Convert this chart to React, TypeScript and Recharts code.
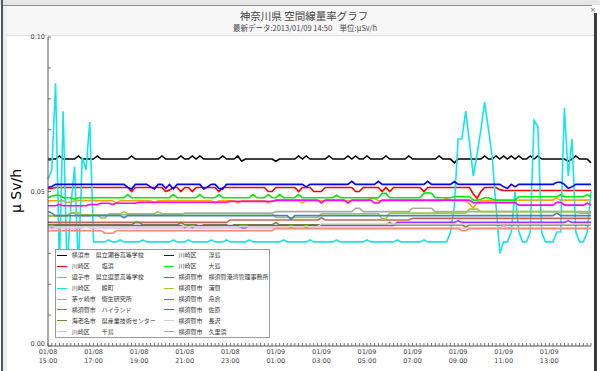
import React from 'react';
import { LineChart, Line, XAxis, YAxis, Legend } from 'recharts';

// values in units of 0.001 µSv/h, one every 10 minutes from 01/08 15:00 to 01/09 14:50
const yokohamaSeya = [
  60.5,60.5,60.5,61.5,60.5,60.5,60.5,60.5,61.5,60.5,60.5,60.5,
  60.5,61.5,60.5,60.5,60.5,60.5,60.5,60.5,60.5,60.5,61.5,60.5,
  60.5,60.5,60.5,60.5,60.5,60.5,61.5,60.5,60.5,60.5,60.5,61.5,
  60.5,60.5,61.5,60.5,61.5,60.5,60.5,60.5,60.5,60.5,61.5,60.5,
  60.5,60.5,61.5,59.8,60.5,60.5,60.5,60.5,60.5,60.5,60.5,60.5,
  59.8,60.5,60.5,60.5,60.5,60.5,61.5,60.5,61.5,60.5,60.5,60.5,
  60.5,60.5,61.5,60.5,60.5,60.5,60.5,61.5,60.5,61.5,60.5,60.5,
  61.5,60.5,60.5,60.5,60.5,61.5,60.5,60.5,60.5,60.5,60.5,61.5,
  60.5,60.5,60.5,60.5,60.5,60.5,60.5,61.5,60.5,60.5,60.5,59.3,
  60.5,60.5,60.5,60.5,60.5,60.5,60.5,61.5,60.5,60.5,61.5,60.5,
  61.5,60.5,61.5,60.5,61.5,60.5,60.5,61.5,60.5,61.5,60.5,60.5,
  60.5,60.5,60.5,60.5,60.5,59.8,60.5,61.5,60.5,60.5,60.5,59.3,
];
const shiohama = [
  51.0,51.0,51.3,51.3,51.3,51.3,51.3,51.3,51.3,51.3,51.3,51.3,
  51.3,51.3,51.3,51.3,51.3,51.3,51.3,51.3,51.3,51.3,50.0,51.3,
  51.3,51.3,51.3,51.3,51.3,51.3,51.3,50.0,50.5,51.3,51.3,50.0,
  51.3,51.3,50.0,51.3,51.3,51.3,51.3,51.3,51.3,50.0,51.3,51.3,
  51.3,51.3,51.3,51.3,51.3,51.3,51.3,51.3,51.3,51.3,50.0,50.0,
  51.3,51.3,51.3,51.3,51.3,51.3,50.0,51.3,51.3,51.3,50.0,50.0,
  50.0,51.3,51.3,51.3,51.3,51.3,51.3,51.3,51.3,50.0,50.0,51.3,
  51.3,51.3,51.3,51.3,50.0,51.3,50.0,51.3,51.3,51.3,51.3,51.3,
  51.3,51.3,51.3,50.0,51.3,51.3,51.3,51.3,51.3,51.3,51.3,51.3,
  51.3,51.3,51.3,51.3,49.2,47.8,50.0,51.3,51.3,51.3,51.3,50.6,
  50.3,50.3,50.3,50.3,50.3,50.3,50.3,50.3,50.3,50.3,50.3,50.3,
  50.3,50.3,50.3,50.3,50.3,50.3,50.3,50.3,50.3,50.3,50.3,50.3,
];
const zushi = [
  47.0,47.0,47.0,47.0,47.0,46.5,46.5,47.0,47.0,47.0,47.0,47.0,
  47.0,47.0,47.0,47.0,47.0,47.0,46.3,47.0,47.0,47.0,47.0,47.0,
  47.0,47.0,47.0,47.0,46.3,47.0,47.0,47.0,47.0,47.0,47.0,47.0,
  47.0,47.0,47.0,47.0,47.0,47.0,47.0,47.0,46.3,47.0,47.0,47.0,
  47.0,47.0,46.3,47.0,47.0,47.0,47.0,47.0,47.0,47.0,46.3,47.0,
  47.0,47.0,47.0,47.0,47.0,47.0,47.0,46.3,47.0,47.0,47.0,47.0,
  47.0,47.0,47.0,47.0,47.0,47.0,47.0,47.0,47.0,47.0,47.0,47.0,
  47.0,47.8,47.8,47.0,47.0,47.0,47.0,47.0,47.0,47.0,47.0,47.0,
  47.0,47.0,47.0,47.0,47.0,47.0,47.0,47.0,47.0,47.8,47.0,47.0,
  47.0,47.0,47.0,46.0,44.6,46.5,47.0,47.0,47.0,47.0,47.0,47.0,
  47.0,47.0,47.0,47.0,47.2,47.2,47.2,47.2,47.2,47.2,47.2,47.2,
  47.2,47.2,48.0,47.2,47.2,47.2,47.2,47.2,47.2,47.2,47.2,47.2,
];
const tonomachi = [
  54.0,57.0,85.0,25.0,76.0,25.0,45.0,58.0,25.0,61.0,57.0,72.5,
  33.7,33.7,33.7,33.7,34.3,33.7,33.7,34.3,33.7,33.7,33.7,33.7,
  33.7,34.3,33.7,33.7,33.7,33.7,33.7,33.7,33.7,34.3,33.7,33.7,
  33.7,34.3,33.7,33.7,33.7,33.7,33.7,34.3,33.7,33.7,33.7,34.3,
  33.7,33.7,33.7,33.7,33.7,34.3,33.7,33.7,33.7,33.7,33.7,33.7,
  33.7,33.7,34.3,33.7,33.7,33.7,33.7,33.7,33.7,34.3,33.7,33.7,
  33.7,33.7,33.7,33.7,34.3,33.7,33.7,33.7,33.7,33.7,33.7,33.7,
  34.3,33.7,33.7,33.7,33.7,33.7,33.7,33.7,34.3,33.7,33.7,33.7,
  33.7,33.7,33.7,34.3,33.7,33.7,33.7,33.7,33.7,33.7,36.9,45.0,
  67.0,67.0,76.0,66.0,55.0,62.0,70.0,79.0,70.0,61.0,45.0,30.0,
  33.7,33.7,36.9,50.0,36.9,33.7,33.7,36.9,73.0,71.0,36.9,33.7,
  33.7,33.7,36.9,36.9,77.0,55.0,67.0,36.9,33.7,33.7,36.9,50.0,
];
const chigasaki = [
  42.2,42.2,42.2,42.2,42.2,42.2,43.0,43.0,42.2,42.2,42.2,42.2,
  42.5,42.5,42.5,42.5,42.5,42.5,42.5,42.5,42.5,42.5,42.5,42.5,
  42.5,42.5,42.5,42.5,42.5,42.5,42.5,42.5,42.5,42.5,42.5,42.5,
  43.0,43.0,43.0,43.0,43.0,43.0,43.0,43.0,43.0,43.0,43.0,43.0,
  43.0,43.0,43.0,43.0,43.0,43.0,43.0,43.0,43.0,43.0,43.0,43.0,
  43.5,43.5,43.5,43.5,43.5,43.5,43.5,43.5,43.5,43.5,43.5,43.5,
  43.5,43.5,43.5,43.5,43.5,43.5,43.5,43.5,43.5,44.6,44.6,43.5,
  43.5,43.5,43.5,43.5,43.5,43.5,43.5,43.5,43.5,43.5,43.5,43.5,
  44.6,44.6,44.6,44.6,44.6,44.6,43.5,43.5,43.5,43.5,43.5,43.5,
  43.5,43.5,43.5,43.5,43.5,43.5,43.5,43.5,43.5,43.5,43.5,43.5,
  43.5,43.5,43.5,43.5,43.5,43.5,43.5,43.5,43.5,43.5,43.5,43.5,
  43.5,43.5,43.5,43.5,43.5,43.5,43.5,43.5,43.0,43.0,43.0,43.0,
];
const highland = [
  40.0,40.0,40.0,40.0,40.0,40.0,40.0,40.0,40.0,40.0,40.0,40.0,
  40.0,40.0,40.0,40.0,40.0,40.0,40.0,40.0,40.0,40.0,40.0,40.0,
  40.0,40.0,40.0,40.0,40.0,40.0,40.0,40.0,40.0,40.0,40.0,40.0,
  40.0,40.0,40.0,40.0,40.0,40.0,40.0,40.0,40.0,40.0,40.0,40.0,
  40.8,40.8,40.8,40.8,40.8,40.8,40.8,40.8,40.8,40.8,40.8,40.8,
  40.8,40.8,40.8,40.8,40.8,40.8,40.8,40.8,40.8,40.8,40.8,40.8,
  41.5,40.8,40.8,40.8,40.8,40.8,40.8,40.8,40.8,40.8,40.8,40.8,
  40.8,40.8,40.8,40.8,40.8,40.8,40.8,40.8,40.8,40.8,40.8,40.8,
  41.3,41.3,41.3,41.3,41.3,41.3,41.3,41.3,41.3,41.3,41.3,41.3,
  41.3,41.3,41.3,41.3,41.3,41.3,41.3,41.3,41.3,41.3,41.3,41.3,
  41.3,41.3,41.3,41.3,41.3,41.3,41.3,41.3,41.3,41.3,41.3,41.3,
  41.3,41.3,41.3,41.3,41.3,41.3,41.3,41.3,41.3,41.3,41.3,41.3,
];
const ebina = [
  39.2,39.2,39.2,39.2,39.2,39.2,39.2,39.2,39.2,39.2,39.2,39.2,
  39.2,39.2,39.2,39.2,39.2,39.2,39.2,39.2,39.2,39.2,39.2,40.0,
  40.0,39.2,39.2,39.2,39.2,39.2,39.2,39.2,39.2,39.2,39.2,40.0,
  39.2,39.2,39.2,39.2,38.5,39.2,39.2,39.2,39.2,39.2,39.2,39.2,
  38.5,39.2,39.2,39.2,39.2,39.2,39.2,39.2,39.2,39.2,39.2,39.2,
  40.0,39.2,39.2,39.2,39.2,39.2,39.2,39.2,39.2,39.2,39.2,39.2,
  39.2,39.2,39.2,39.2,39.2,39.2,39.2,39.2,39.2,39.2,39.2,39.2,
  39.2,39.2,39.2,39.2,39.2,39.2,40.0,39.2,39.2,39.2,39.2,39.2,
  39.2,39.2,39.2,39.2,39.2,39.2,39.2,39.2,39.2,39.2,39.2,39.2,
  39.2,39.2,38.5,39.2,39.2,39.2,39.2,39.2,39.2,39.2,39.2,39.2,
  39.2,39.2,39.2,39.2,39.2,39.2,39.2,39.2,39.2,39.2,39.2,39.2,
  39.2,39.2,39.2,39.2,39.2,39.2,39.2,39.2,39.2,39.2,39.2,39.2,
];
const chidori = [
  38.2,38.2,38.2,38.2,38.2,38.2,38.2,38.2,38.2,38.2,38.8,38.2,
  38.2,38.2,38.2,38.2,38.2,38.2,38.2,38.2,38.2,38.2,38.2,38.2,
  38.2,38.2,38.2,38.2,38.2,38.2,38.2,38.2,38.2,38.2,38.2,38.2,
  38.2,38.2,38.2,38.2,38.2,38.2,38.2,38.2,38.2,38.2,38.2,38.2,
  38.2,38.2,38.2,38.2,38.2,38.2,38.2,38.2,38.2,38.2,38.2,38.2,
  38.2,38.2,38.2,38.2,38.2,38.2,38.2,38.2,38.2,38.2,38.2,38.2,
  38.2,38.2,38.2,38.2,38.2,38.2,38.2,38.2,38.2,38.2,38.2,38.2,
  38.2,38.2,38.2,38.2,38.2,38.2,38.2,38.2,38.2,38.2,38.2,38.2,
  38.2,38.2,38.2,38.2,38.2,38.2,38.2,38.2,38.2,38.2,38.2,38.2,
  38.2,38.2,38.2,38.2,38.2,38.2,38.2,38.2,38.2,38.2,38.2,38.2,
  38.8,38.2,38.2,38.2,38.2,38.2,38.2,38.2,38.2,38.2,38.2,38.2,
  38.2,38.2,38.2,38.2,38.2,38.2,38.2,38.2,38.2,38.2,38.2,38.2,
];
const ukishima = [
  51.4,51.6,52.3,52.3,52.3,52.3,52.3,52.3,52.3,52.3,52.3,52.3,
  52.3,52.3,52.3,52.3,52.3,52.3,52.3,52.3,52.3,51.3,50.8,52.3,
  52.3,52.3,52.3,51.5,50.8,52.3,52.3,51.0,52.3,50.8,52.3,52.3,
  52.3,52.3,52.3,52.3,52.3,50.8,51.5,52.3,52.3,51.0,50.8,52.3,
  52.3,52.3,52.3,52.3,52.3,52.3,52.3,52.3,52.3,52.3,52.3,52.3,
  52.3,52.3,52.3,52.3,52.3,52.3,52.3,52.3,51.5,52.3,52.3,52.3,
  52.3,52.3,52.3,52.3,52.3,52.3,52.3,52.3,53.3,52.3,52.3,52.3,
  52.3,52.3,52.3,53.3,52.3,52.3,52.3,52.3,52.3,52.3,52.3,52.3,
  52.3,52.3,52.3,52.3,53.3,52.3,52.3,52.3,52.3,52.3,52.3,53.2,
  52.3,52.3,52.3,52.3,52.3,52.3,52.3,52.3,52.3,52.3,52.3,52.3,
  51.5,51.0,52.3,51.5,52.3,52.3,52.3,52.3,52.3,52.3,52.3,52.3,
  52.3,52.3,53.0,53.0,52.3,51.0,51.5,52.3,52.3,52.3,52.3,52.3,
];
const oshima = [
  48.0,48.5,48.8,48.8,48.0,48.0,48.0,47.5,48.0,48.0,48.0,48.0,
  48.0,48.0,48.0,48.0,48.0,48.0,48.0,48.0,48.0,49.0,48.0,48.0,
  48.0,48.0,48.0,48.0,48.0,48.0,48.0,48.0,48.0,49.0,48.0,48.0,
  48.0,48.0,48.0,48.0,49.0,48.0,48.0,48.0,48.0,49.0,48.0,48.0,
  48.0,48.0,48.0,48.0,48.0,48.0,49.0,48.0,48.0,48.0,49.0,48.0,
  48.0,49.0,48.0,48.0,48.0,48.0,49.0,48.0,48.0,48.0,48.0,48.0,
  48.0,48.0,48.0,48.0,48.8,48.0,48.0,48.0,48.0,48.0,48.0,48.0,
  48.0,48.0,48.0,48.0,49.4,49.4,48.0,48.0,48.0,48.0,48.0,48.0,
  48.0,48.0,48.0,49.4,49.6,49.4,48.0,48.0,48.0,48.0,48.0,48.3,
  48.3,48.3,48.3,48.3,47.2,47.2,47.5,48.0,48.0,47.5,47.2,47.2,
  47.2,47.2,47.2,47.2,48.3,48.3,48.3,48.3,48.3,48.3,48.3,48.3,
  48.3,48.3,48.3,49.0,48.3,48.3,48.3,48.3,48.3,48.3,49.0,48.3,
];
const yokosukaPort = [
  45.4,45.4,45.4,45.8,45.4,45.4,45.4,45.4,45.4,45.4,45.4,45.8,
  45.8,45.8,46.2,46.2,46.2,45.8,46.2,46.2,46.2,46.2,46.2,46.2,
  46.5,46.5,46.5,46.5,46.5,46.5,46.5,46.5,46.5,46.5,46.5,46.5,
  46.5,46.5,46.5,46.5,46.5,46.5,46.5,46.5,46.5,46.5,46.5,46.5,
  46.8,46.8,46.8,46.8,46.8,46.8,46.8,46.8,46.8,46.8,46.8,46.8,
  47.2,47.2,47.2,47.2,47.2,47.2,47.2,47.2,47.2,47.2,47.2,47.2,
  46.3,47.2,47.2,47.2,47.2,47.2,47.2,46.3,47.2,47.2,47.2,47.2,
  47.2,47.2,46.3,46.3,47.2,47.2,47.2,47.2,47.2,47.2,47.2,47.2,
  47.2,47.2,47.2,47.2,47.2,47.2,47.2,47.2,47.2,47.2,47.2,47.2,
  47.2,47.2,47.2,47.2,46.4,46.4,46.4,46.4,46.4,46.4,46.4,46.4,
  46.4,46.4,46.4,46.4,45.6,45.6,45.6,45.6,45.6,45.6,45.6,45.6,
  45.6,45.6,46.5,46.5,45.6,45.6,45.6,45.6,45.6,45.6,46.2,45.6,
];
const uraga = [
  42.0,42.0,42.0,42.0,42.0,42.0,43.0,43.0,43.0,42.5,42.5,42.5,
  42.5,42.5,41.4,41.4,42.8,42.8,42.8,42.8,43.5,42.8,42.8,42.8,
  42.8,42.8,42.8,42.8,42.8,43.5,42.8,42.8,42.8,42.8,42.8,42.8,
  42.8,42.8,42.8,42.8,42.8,42.8,42.8,42.8,42.8,42.8,42.8,42.8,
  42.8,42.8,42.8,42.8,42.8,42.8,42.8,42.8,42.8,42.8,42.8,42.8,
  41.6,41.6,41.6,41.6,41.6,41.6,41.6,41.6,41.6,41.6,41.6,41.6,
  42.8,42.8,42.8,42.8,42.8,42.8,42.8,42.8,42.8,42.8,42.8,42.8,
  42.8,42.8,42.8,42.8,41.2,41.2,43.0,43.0,43.0,43.0,43.0,43.0,
  43.0,43.0,43.0,43.0,43.0,43.0,43.0,43.0,43.0,43.0,43.0,43.0,
  43.0,43.0,43.0,44.3,44.3,44.3,43.5,43.5,43.5,43.5,43.5,43.5,
  43.5,43.5,43.5,43.5,43.5,43.5,43.5,43.5,43.5,43.5,43.5,43.5,
  43.5,43.5,43.5,43.5,43.5,43.5,43.5,43.5,43.5,43.5,43.5,43.5,
];
const funakura = [
  43.5,43.0,42.2,42.2,42.2,42.2,42.2,42.2,42.2,42.2,42.2,42.2,
  42.2,42.2,42.2,42.2,42.2,42.2,42.2,42.2,41.5,42.2,42.2,42.2,
  42.2,42.2,42.2,42.2,42.2,42.2,42.2,42.2,42.2,42.2,42.2,42.2,
  42.2,42.2,42.2,42.2,42.2,42.2,42.2,42.2,42.2,42.2,42.2,42.2,
  42.2,42.2,42.2,42.2,42.2,42.2,42.2,42.2,42.2,42.2,42.2,42.2,
  42.2,42.2,42.2,42.2,41.0,42.2,42.2,42.2,42.2,42.2,42.2,42.2,
  42.2,42.2,42.2,42.2,42.2,42.2,42.2,42.2,42.2,42.2,42.2,42.2,
  42.2,42.2,42.2,42.2,42.2,42.2,42.2,42.2,42.2,42.2,42.2,42.2,
  42.2,42.2,42.2,42.2,42.2,42.2,42.2,42.2,42.2,42.2,42.2,42.2,
  42.2,42.2,42.2,42.2,42.2,42.2,42.2,42.2,42.2,42.2,42.2,42.2,
  42.2,42.2,42.2,42.2,42.2,42.2,42.2,42.2,42.2,42.2,42.2,42.2,
  42.2,42.2,43.0,42.2,42.2,42.2,42.2,42.2,42.2,42.2,42.2,42.2,
];
const sahara = [
  39.0,38.3,39.0,39.0,39.0,39.0,39.0,39.0,39.0,39.0,39.0,39.0,
  39.0,39.0,39.0,39.0,39.0,39.0,39.0,39.0,39.0,39.0,39.0,39.0,
  39.0,39.0,39.0,39.0,39.0,39.0,39.0,39.0,39.0,39.0,39.0,39.0,
  38.3,39.0,38.3,39.0,39.0,39.0,39.0,39.0,39.0,39.0,39.0,39.0,
  39.0,39.0,39.0,38.3,38.3,39.0,39.0,39.0,39.0,39.0,39.0,39.0,
  39.0,39.0,39.0,39.0,38.3,39.0,39.0,39.0,38.3,39.0,39.0,39.0,
  39.0,39.0,39.0,39.0,39.0,39.0,39.0,39.0,39.0,39.0,39.0,39.0,
  39.0,39.0,39.0,39.0,39.0,39.0,39.0,39.0,40.0,40.0,40.0,40.0,
  40.0,40.0,40.0,40.0,40.0,40.0,40.0,40.0,40.0,40.0,40.0,40.0,
  40.5,40.0,40.0,40.0,40.0,40.0,40.0,40.0,40.0,40.0,40.0,40.0,
  40.0,40.0,40.0,40.0,40.0,40.0,40.0,40.0,40.0,40.0,40.0,40.0,
  40.0,40.0,40.0,40.0,40.0,40.5,40.0,40.0,40.0,40.0,40.0,40.0,
];
const nagasawa = [
  38.6,38.6,38.6,38.6,38.6,38.6,38.6,38.6,38.6,38.6,38.6,38.6,
  38.6,38.6,38.6,38.6,38.6,38.6,38.6,38.6,38.6,38.6,38.6,38.6,
  38.6,38.6,38.6,38.6,38.6,38.6,38.6,38.6,38.6,38.6,38.6,38.6,
  38.6,38.6,38.6,38.6,38.6,38.6,38.6,38.6,38.6,38.6,38.6,38.6,
  38.6,38.6,38.6,38.6,38.6,38.6,38.6,38.6,38.6,38.6,38.6,38.6,
  38.6,38.6,38.6,38.6,38.6,38.6,38.6,38.6,38.6,38.6,38.6,38.6,
  39.5,39.5,39.5,39.5,39.5,39.5,39.5,39.5,39.5,39.5,39.5,39.5,
  39.5,39.5,39.5,39.5,39.5,39.5,39.5,39.5,39.5,39.5,39.5,39.5,
  39.5,39.5,39.5,39.5,39.5,39.5,39.5,39.5,39.5,39.5,39.5,39.5,
  39.5,39.5,39.5,39.5,39.5,39.5,39.5,39.5,39.5,39.5,39.5,39.5,
  39.5,39.5,39.5,39.5,39.5,39.5,39.5,39.5,39.5,39.5,39.5,39.5,
  39.5,39.5,39.5,39.5,39.5,39.5,39.5,39.5,39.5,39.5,39.5,39.5,
];
const kurihama = [
  37.3,37.3,37.3,37.3,37.3,37.3,37.3,37.3,37.3,37.3,37.3,37.3,
  37.3,37.3,37.3,36.5,36.5,36.5,37.3,37.3,37.3,37.3,37.3,37.3,
  37.3,37.3,37.3,37.3,37.3,37.3,37.3,37.3,37.3,37.3,37.3,37.3,
  37.3,37.3,37.3,37.3,37.3,37.3,37.3,37.3,37.3,37.3,37.3,37.3,
  37.3,37.3,37.3,37.3,37.3,37.3,37.3,37.3,37.3,37.3,37.3,37.3,
  38.0,38.0,38.0,38.0,38.0,38.0,38.0,38.0,38.0,38.0,38.0,38.0,
  38.0,38.0,38.0,38.0,38.0,38.0,38.0,38.0,38.0,38.0,38.0,38.0,
  38.0,38.0,38.0,38.0,38.0,38.0,38.0,38.0,38.0,38.0,38.0,38.0,
  38.0,38.0,38.0,38.0,38.0,38.0,38.0,38.0,38.0,38.0,38.0,38.0,
  38.0,37.3,37.3,38.0,38.0,38.0,38.0,38.0,38.0,38.0,38.0,38.0,
  38.0,38.0,38.0,38.0,38.0,38.0,38.0,38.0,38.0,38.0,38.0,38.0,
  38.0,38.0,38.0,38.0,38.0,38.0,38.0,38.0,38.0,38.0,38.0,38.0,
];

const xTickLabels = [
  ['01/08', '15:00'], ['01/08', '17:00'], ['01/08', '19:00'], ['01/08', '21:00'],
  ['01/08', '23:00'], ['01/09', '01:00'], ['01/09', '03:00'], ['01/09', '05:00'],
  ['01/09', '07:00'], ['01/09', '09:00'], ['01/09', '11:00'], ['01/09', '13:00'],
];
const yTicks = [0, 0.01, 0.02, 0.03, 0.04, 0.05, 0.06, 0.07, 0.08, 0.09, 0.1];
const yTickLabels = ['0.00', '', '', '', '', '0.05', '', '', '', '', '0.10'];

const seriesDefs = [
  { key: 'yokohamaSeya', name: '横浜市　県立瀬谷高等学校', color: '#000000', values: yokohamaSeya },
  { key: 'shiohama', name: '川崎区　　塩浜', color: '#ff0000', values: shiohama },
  { key: 'zushi', name: '逗子市　県立逗葉高等学校', color: '#ffa500', values: zushi },
  { key: 'tonomachi', name: '川崎区　　殿町', color: '#12e6ec', values: tonomachi },
  { key: 'chigasaki', name: '茅ヶ崎市　衛生研究所', color: '#a9a9a9', values: chigasaki },
  { key: 'highland', name: '横須賀市　ハイランド', color: '#cd6155', values: highland },
  { key: 'ebina', name: '海老名市　県産業技術センター', color: '#6b8e23', values: ebina },
  { key: 'chidori', name: '川崎区　　千鳥', color: '#f2b0f2', values: chidori },
  { key: 'ukishima', name: '川崎区　　浮島', color: '#0000ff', values: ukishima },
  { key: 'oshima', name: '川崎区　　大島', color: '#00ee00', values: oshima },
  { key: 'yokosukaPort', name: '横須賀市　横須賀港湾管理事務所', color: '#ff00ff', values: yokosukaPort },
  { key: 'uraga', name: '横須賀市　浦賀', color: '#9acd32', values: uraga },
  { key: 'funakura', name: '横須賀市　舟倉', color: '#4682b4', values: funakura },
  { key: 'sahara', name: '横須賀市　佐原', color: '#9933ff', values: sahara },
  { key: 'nagasawa', name: '横須賀市　長沢', color: '#d3d3d3', values: nagasawa },
  { key: 'kurihama', name: '横須賀市　久里浜', color: '#fa8a72', values: kurihama },
];

const timeIndex = yokohamaSeya.map((_, i) => i);
const rows = timeIndex.map((t) => {
  const r: Record<string, number> = { t };
  seriesDefs.forEach((s) => { r[s.key] = s.values[t] / 1000; });
  return r;
});

const NUM_FONT = 'DejaVu Sans, sans-serif';
const CJK_FONT = '"Noto Sans CJK JP", sans-serif';

function XTick(props: any) {
  const { x, y, payload } = props;
  const v = payload.value as number;
  const lab = v % 12 === 0 ? xTickLabels[v / 12] : null;
  return (
    <g>
      <line x1={x} x2={x} y1={y} y2={y - 3} stroke="#555" strokeWidth={0.8} />
      {lab && (
        <text x={x} y={y + 7.8} textAnchor="middle" fontSize={6.5} fill="#444" fontFamily={NUM_FONT}>
          <tspan x={x} dy={0}>{lab[0]}</tspan>
          <tspan x={x} dy={8.7}>{lab[1]}</tspan>
        </text>
      )}
    </g>
  );
}

function YTick(props: any) {
  const { x, y, index } = props;
  const lab = yTickLabels[index];
  const dy = index === 0 ? 0.3 : 2.3;
  return (
    <g>
      <line x1={x} x2={x + 3} y1={y} y2={y} stroke="#555" strokeWidth={0.8} />
      {lab && (
        <text x={x - 3} y={y + dy} textAnchor="end" fontSize={6.5} fill="#444" fontFamily={NUM_FONT}>
          {lab}
        </text>
      )}
    </g>
  );
}

function LegendBox(props: any) {
  const items = props.payload || [];
  const ordered = seriesDefs
    .map((s) => items.find((it: any) => it.value === s.name))
    .filter(Boolean);
  return (
    <div
      style={{
        width: 215, height: 89, boxSizing: 'border-box', background: '#fff',
        border: '1px solid #9a9a9a', paddingLeft: 1.3, display: 'grid',
        gridTemplateRows: 'repeat(8, 10.9px)', gridAutoFlow: 'column',
        gridTemplateColumns: '106.7px 106px',
      }}
    >
      {ordered.map((it: any) => (
        <div key={it.value} style={{ display: 'flex', alignItems: 'center', height: 10.9 }}>
          <span style={{ display: 'inline-block', width: 10, height: 0, borderTop: `1.6px solid ${it.color}`, marginRight: 4.4 }} />
          <span style={{ fontSize: 6, lineHeight: '8px', color: '#333', fontFamily: CJK_FONT, whiteSpace: 'nowrap' }}>{it.value}</span>
        </div>
      ))}
    </div>
  );
}

export default function App() {
  return (
    <div style={{ position: 'absolute', left: 0, top: 0, width: 600, height: 371, background: '#fff', overflow: 'hidden' }}>
      <div style={{ position: 'absolute', left: 0, top: 0, width: 600, height: 5, background: '#e6e6e6' }} />
      <div style={{ position: 'absolute', left: 3, top: 5, width: 589, height: 1, background: '#8c8c8c' }} />
      <div style={{ position: 'absolute', left: 1, top: 0, width: 2, height: 371, background: '#4d5566' }} />
      <div style={{ position: 'absolute', left: 3, top: 6, width: 4, height: 365, background: '#eeeeee' }} />
      <div style={{ position: 'absolute', left: 7, top: 6, width: 587, height: 29, background: '#f7f7f7' }} />
      <div style={{ position: 'absolute', left: 7, top: 35, width: 587, height: 1, background: '#dedede' }} />
      <div style={{ position: 'absolute', left: 594, top: 13, width: 3, height: 358, background: '#3c3c3c' }} />
      <div style={{ position: 'absolute', left: 590, top: 6, width: 8, height: 8, fontSize: 7, lineHeight: '8px', color: '#666', fontFamily: NUM_FONT }}>×</div>

      <div style={{ position: 'absolute', left: 0, top: 9.5, width: 608, textAlign: 'center', fontSize: 10.5, lineHeight: '11px', color: '#444', fontFamily: CJK_FONT }}>
        神奈川県 空間線量率グラフ
      </div>
      <div style={{ position: 'absolute', left: 0, top: 23.5, width: 610, textAlign: 'center', fontSize: 7.5, lineHeight: '8px', color: '#444', fontFamily: CJK_FONT }}>
        最新データ:2013/01/09 14:50　単位:μSv/h
      </div>

      <div style={{ position: 'absolute', left: 0, top: 0 }}>
        <LineChart width={600} height={371} data={rows} margin={{ top: 37, right: 9, bottom: 0, left: 0 }}>
          <XAxis
            dataKey="t" type="number" domain={[0, 143]} ticks={timeIndex} interval={0}
            height={25} tickSize={0} tickMargin={0} tickLine={false}
            axisLine={{ stroke: '#555', strokeWidth: 1 }} tick={(p: any) => <XTick {...p} />}
          />
          <YAxis
            type="number" domain={[0, 0.1]} ticks={yTicks} interval={0}
            width={48} tickSize={0} tickMargin={0} tickLine={false}
            axisLine={{ stroke: '#555', strokeWidth: 1 }} tick={(p: any) => <YTick {...p} />}
          />
          {seriesDefs.map((s) => (
            <Line key={s.key} type="linear" dataKey={s.key} name={s.name} stroke={s.color}
              strokeWidth={1.6} dot={false} activeDot={false} isAnimationActive={false} />
          ))}
          <Legend
            layout="horizontal" verticalAlign="middle" align="center"
            wrapperStyle={{ left: 55, top: 249, width: 215, height: 89 }}
            content={(p: any) => <LegendBox {...p} />}
          />
        </LineChart>
      </div>

      <div style={{ position: 'absolute', left: -34, top: 183, width: 100, height: 16, textAlign: 'center', fontSize: 14, lineHeight: '16px', color: '#000', fontFamily: NUM_FONT, transform: 'rotate(-90deg)' }}>
        μ Sv/h
      </div>
    </div>
  );
}
